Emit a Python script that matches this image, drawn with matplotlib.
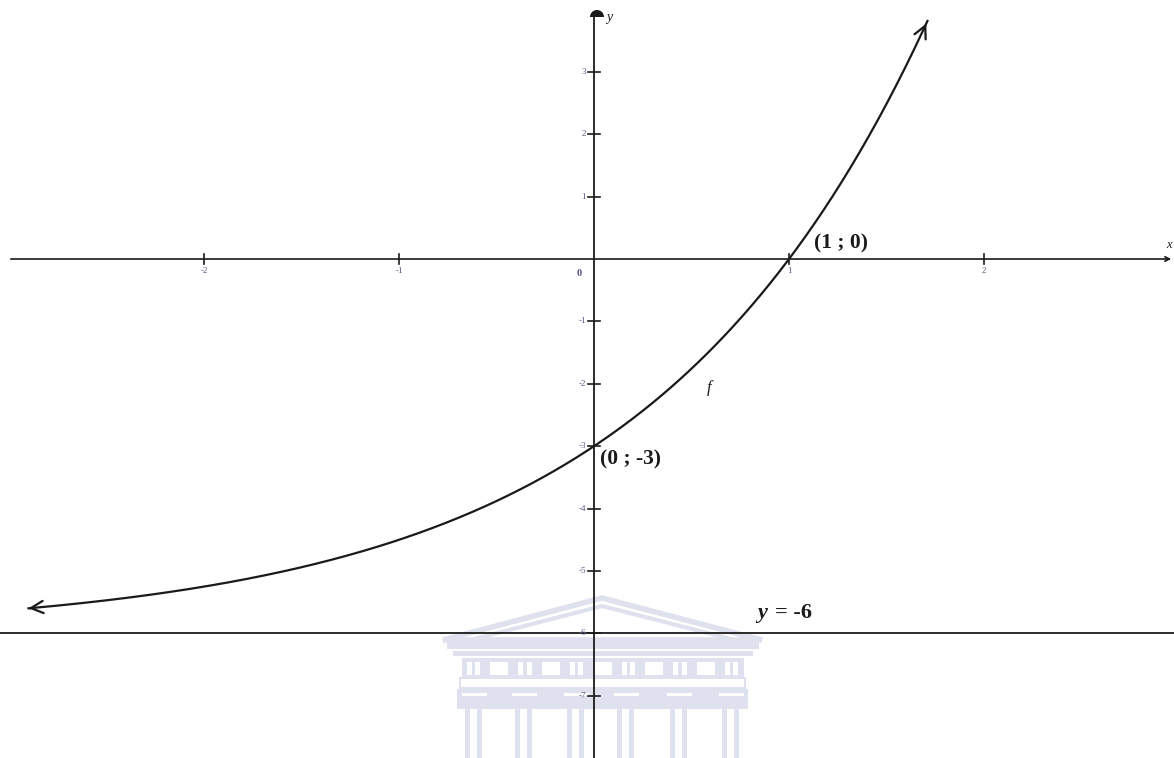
import numpy as np
import matplotlib.pyplot as plt
from matplotlib.patches import Polygon, Rectangle, Wedge

# Graph of f(x) = a.b^x + q, fixed by its labelled points and asymptote
asymptote_q = -6
point_y_int = (0, -3)
point_x_int = (1, 0)
x_start, x_end = -2.9, 1.71

x_ticks = [-2, -1, 1, 2]
y_ticks = [3, 2, 1, -1, -2, -3, -4, -5, -6, -7]

a = point_y_int[1] - asymptote_q
b = (point_x_int[1] - asymptote_q) / a

W, H = 1174, 758
fig = plt.figure(figsize=(W / 100, H / 100), dpi=100)

# faint watermark behind the graph (pixel coordinates)
wm = fig.add_axes([0, 0, 1, 1])
wm.set_xlim(0, W)
wm.set_ylim(H, 0)
wm.axis('off')
lav = '#e0e1ef'
wm.add_patch(Polygon([[443, 640], [602, 598], [762, 640]], closed=True,
                     fc='none', ec=lav, lw=4))
wm.add_patch(Polygon([[470, 640], [602, 606], [735, 640]], closed=True,
                     fc='none', ec=lav, lw=3))
wm.add_patch(Rectangle((447, 640), 312, 9, fc=lav, ec='none'))
wm.add_patch(Rectangle((453, 651), 300, 5, fc=lav, ec='none'))
wm.add_patch(Rectangle((462, 658), 282, 20, fc=lav, ec='none'))
frieze = [(110, 125), (135, 150), (180, 235), (265, 280), (290, 305), (335, 390),
          (420, 435), (445, 460), (495, 545), (575, 590), (600, 615), (645, 700),
          (730, 745), (755, 770), (800, 855), (885, 900), (910, 925)]
for z0, z1 in frieze:
    wm.add_patch(Rectangle((430 + z0 / 3, 662), (z1 - z0) / 3, 13, fc='white', ec='none'))
wm.add_patch(Rectangle((460, 678), 285, 10, fc='none', ec=lav, lw=1.5))
wm.add_patch(Rectangle((457, 689), 291, 20, fc=lav, ec='none'))
for cx in [465, 515, 567, 617, 670, 722]:
    wm.add_patch(Rectangle((cx - 3, 693), 25, 3, fc='white', ec='none'))
    wm.add_patch(Rectangle((cx, 709), 5, 49, fc=lav, ec='none'))
    wm.add_patch(Rectangle((cx + 12, 709), 5, 49, fc=lav, ec='none'))

# main graph
ax = fig.add_axes([0, 0, 1, 1])
ax.patch.set_alpha(0)
px_x, px_y = 195.0, 62.4
ax.set_xlim(-594 / px_x, (W - 594) / px_x)
ax.set_ylim(-(H - 259) / px_y, 259 / px_y)
for s in ax.spines.values():
    s.set_visible(False)
ax.set_xticks([])
ax.set_yticks([])

serif = 'Liberation Serif'
lc = '#1a1a1a'

# axes with arrow / cap
x0, x1 = ax.get_xlim()
y0, y1 = ax.get_ylim()
ax.annotate('', xy=(x1, 0), xytext=(x0 + 8 / px_x, 0),
            arrowprops=dict(arrowstyle='->', lw=1.2, color=lc, mutation_scale=8))
y_top = (259 - 16) / px_y
ax.plot([0, 0], [y0, y_top], color=lc, lw=1.3)
wm.add_patch(Wedge((597, 17), 7, 180, 360, fc=lc, ec='none', zorder=5))

# asymptote
ax.axhline(asymptote_q, color=lc, lw=1.3)

# ticks and tick labels
tc = '#55558a'
for t in x_ticks:
    ax.plot([t, t], [-5 / px_y, 5 / px_y], color=lc, lw=1.2)
    ax.text(t, -12 / px_y, f'{t}', ha='center', va='center', fontsize=6.5,
            family=serif, color=tc)
ax.text(-15 / px_x, -14 / px_y, '0', ha='center', va='center', fontsize=7.5,
        family=serif, fontweight='bold', color=tc)
for t in y_ticks:
    ax.plot([-6 / px_x, 6 / px_x], [t, t], color=lc, lw=1.2)
    ax.text(-8 / px_x, t, f'{t}', ha='right', va='center', fontsize=6.5,
            family=serif, color=tc)

ax.text(12 / px_x, y_top - 2 / px_y, 'y', ha='left', va='center', fontsize=10,
        family=serif, style='italic', color=lc)
ax.text(x1 - 2 / px_x, 14 / px_y, 'x', ha='right', va='center', fontsize=9,
        family=serif, style='italic', color=lc)

# curve with arrowheads at both ends
xs = np.linspace(x_start, x_end, 400)
ys = a * b ** xs + asymptote_q
ax.plot(xs, ys, color=lc, lw=1.6)
ax.annotate('', xy=(xs[-1], ys[-1]), xytext=(xs[-3], ys[-3]),
            arrowprops=dict(arrowstyle='->', lw=1.6, color=lc, mutation_scale=22))
ax.annotate('', xy=(xs[0], ys[0]), xytext=(xs[2], ys[2]),
            arrowprops=dict(arrowstyle='->', lw=1.6, color=lc, mutation_scale=22))

# labels
ax.text(point_x_int[0] + 25 / px_x, point_x_int[1] + 16 / px_y,
        f'({point_x_int[0]} ; {point_x_int[1]})', ha='left', va='center',
        fontsize=15.5, fontweight='bold', family=serif, color=lc)
ax.text(point_y_int[0] + 6 / px_x, point_y_int[1] - 13 / px_y,
        f'({point_y_int[0]} ; {point_y_int[1]})', ha='left', va='center',
        fontsize=15.5, fontweight='bold', family=serif, color=lc)
ax.text(0.59, -2.06, 'f', ha='center', va='center', fontsize=12,
        family=serif, style='italic', color=lc)
ax.text(0.835, asymptote_q + 20 / px_y, 'y', ha='left', va='center',
        fontsize=16, family=serif, style='italic', fontweight='bold', color=lc)
ax.text(0.835 + 18 / px_x, asymptote_q + 20 / px_y, f'= {asymptote_q}', ha='left',
        va='center', fontsize=16, fontweight='bold', family=serif, color=lc)

fig.savefig('out.png', dpi=100)
